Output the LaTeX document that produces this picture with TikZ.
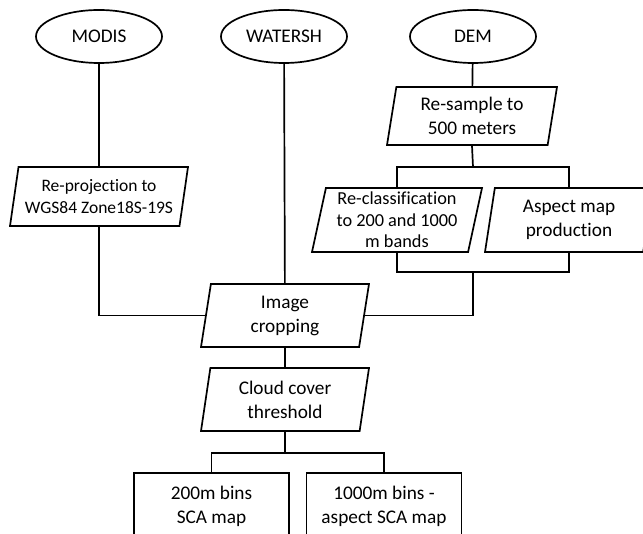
\documentclass[tikz,border=0pt]{standalone}
\usepackage{fontspec}
\setmainfont{Carlito}[Ligatures=NoCommon]
\usetikzlibrary{shapes.geometric}

\begin{document}
\begin{tikzpicture}[x=1pt,y=-1pt,line width=1.7pt,
  font=\fontsize{19.3}{24}\selectfont,
  source/.style={ellipse,draw,minimum width=126pt,minimum height=53pt,inner sep=0pt},
  proc/.style={trapezium,draw,trapezium left angle=76,trapezium right angle=104,
    trapezium stretches body,minimum width=#1,minimum height=62pt,inner sep=0pt,align=center},
  proc/.default=168pt,
  result/.style={rectangle,draw,minimum width=155pt,minimum height=66pt,inner sep=0pt,align=center}]
\clip (0,0) rectangle (643,534);
% inputs
\node [source] (modis) at (99,36.5) {MODIS};
\node [source] (watersh) at (284,36.5) {WATERSH};
\node [source] (dem) at (473,36.5) {DEM};
% processing
\node [proc=178pt,minimum height=59pt,font=\fontsize{17.5}{22}\selectfont] (reproj) at (99,196.5) {Re-projection to\\WGS84 Zone18S-19S};
\node [proc=170pt,minimum height=58pt] (resample) at (472,116) {Re-sample to\\500 meters};
\node [proc=170pt,minimum height=64pt,font=\fontsize{18.3}{21.5}\selectfont] (reclass) at (397,220) {Re-classification\\to 200 and 1000\\m bands};
\node [proc=168pt,minimum height=64pt] (aspect) at (569,220) {Aspect map\\production};
\node [proc,minimum height=63pt] (crop) at (285,315.5) {Image\\cropping};
\node [proc,minimum height=63pt] (cloud) at (285,399.5) {Cloud cover\\threshold};
% outputs
\node [result] (bin200) at (211.5,506) {200m bins\\SCA map};
\node [result] (bin1000) at (384,506) {1000m bins -\\aspect SCA map};
% connectors
\coordinate (fork1) at (473,167);
\coordinate (join1) at (473,272);
\coordinate (fork2) at (285,453);
\draw (modis) -- (reproj);
\draw (watersh) -- (crop);
\draw (dem) -- (resample);
\draw (reproj.south) |- (crop.west);
\draw (resample.south) -- (fork1);
\draw (reclass.north) |- (fork1) -| (aspect.north);
\draw (reclass.south) |- (join1) -| (aspect.south);
\draw (join1) |- (crop.east);
\draw (crop) -- (cloud);
\draw (cloud.south) -- (fork2);
\draw (bin200.north) |- (fork2) -| (bin1000.north);
\end{tikzpicture}
\end{document}
